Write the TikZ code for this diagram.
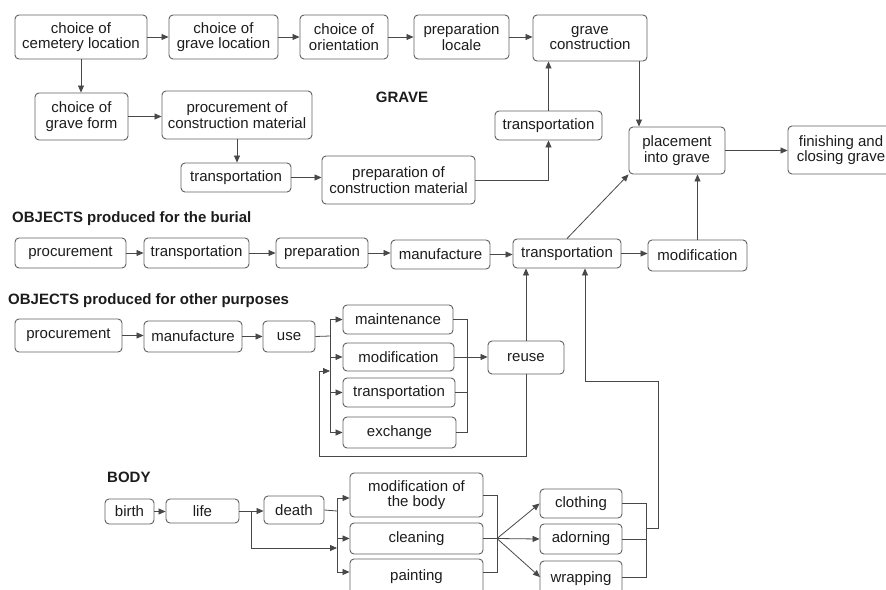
\documentclass[tikz,border=0pt]{standalone}
\usepackage{fontspec}
\setmainfont{Liberation Sans}
\usetikzlibrary{arrows.meta,calc}
\definecolor{boxc}{HTML}{606060}
\definecolor{linec}{HTML}{484848}
\definecolor{txtc}{HTML}{1C1C1C}
\begin{document}
\begin{tikzpicture}[x=1pt,y=-1pt,
 box/.style={draw=boxc, line width=0.9pt, rounded corners=4pt, inner sep=0pt, align=center, text=txtc, font=\fontsize{15}{15.5}\selectfont},
 ln/.style={draw=linec, line width=0.8pt},
 arr/.style={ln, -{Triangle[length=7pt,width=6pt]}},
 lbl/.style={font=\bfseries\fontsize{15}{16}\selectfont, text=txtc, inner sep=0pt, anchor=west}]
\useasboundingbox (0,0) rectangle (886,589);
% ---------- GRAVE ----------
\node[box, minimum width=132pt, minimum height=44pt] (cem) at (81,37) {choice of\\cemetery location};
\node[box, minimum width=109pt, minimum height=44pt] (gloc) at (223.5,37) {choice of\\grave location};
\node[box, minimum width=88pt, minimum height=44pt] (orient) at (344,37) {choice of\\orientation};
\node[box, minimum width=95pt, minimum height=44pt] (prepl) at (461.5,37) {preparation\\locale};
\node[box, minimum width=114pt, minimum height=46pt] (gcons) at (590,38) {grave\\construction};
\node[box, minimum width=93pt, minimum height=47pt] (gform) at (81.5,116.5) {choice of\\grave form};
\node[box, minimum width=150pt, minimum height=48pt] (procm) at (237,115) {procurement of\\construction material};
\node[box, minimum width=110pt, minimum height=29pt] (transG) at (236,177.5) {transportation};
\node[box, minimum width=153pt, minimum height=48pt] (prepcm) at (398.5,180) {preparation of\\construction material};
\node[box, minimum width=107pt, minimum height=29pt] (transU) at (548.5,125.5) {transportation};
\node[box, minimum width=96pt, minimum height=47pt] (place) at (677,150.5) {placement\\into grave};
\node[box, minimum width=106pt, minimum height=48pt] (finish) at (841,150) {finishing and\\closing grave};
\node[lbl, anchor=center] (grave) at (402,97) {GRAVE};
% ---------- OBJECTS burial ----------
\node[lbl] (lobj1) at (12,219) {OBJECTS produced for the burial};
\node[box, minimum width=111pt, minimum height=30pt] (bproc) at (70.5,253) {procurement};
\node[box, minimum width=105pt, minimum height=30pt] (btrans) at (196.5,253) {transportation};
\node[box, minimum width=92pt, minimum height=30pt] (bprep) at (322,253) {preparation};
\node[box, minimum width=99pt, minimum height=29pt] (bmanu) at (440.5,254.5) {manufacture};
\node[box, minimum width=108pt, minimum height=29pt] (otrans) at (567,253.5) {transportation};
\node[box, minimum width=99pt, minimum height=31pt] (bmod) at (697.5,255.5) {modification};
% ---------- OBJECTS other ----------
\node[lbl] (lobj2) at (8,301) {OBJECTS produced for other purposes};
\node[box, minimum width=107pt, minimum height=33pt] (oproc) at (68.5,335.5) {procurement};
\node[box, minimum width=98pt, minimum height=31pt] (omanu) at (193,336.5) {manufacture};
\node[box, minimum width=52pt, minimum height=31pt] (ouse) at (289,336.5) {use};
\node[box, minimum width=110pt, minimum height=29pt] (omaint) at (398,319.5) {maintenance};
\node[box, minimum width=111pt, minimum height=28pt] (omod) at (398.5,357) {modification};
\node[box, minimum width=112pt, minimum height=29pt] (otr) at (399,392.5) {transportation};
\node[box, minimum width=113pt, minimum height=31pt] (oexch) at (399.5,432.5) {exchange};
\node[box, minimum width=76pt, minimum height=33pt] (reuse) at (526,357.5) {reuse};
% ---------- BODY ----------
\node[lbl] (lbody) at (107,477) {BODY};
\node[box, minimum width=49pt, minimum height=25pt] (birth) at (129.5,511.5) {birth};
\node[box, minimum width=73pt, minimum height=24pt] (life) at (202.5,511) {life};
\node[box, minimum width=60pt, minimum height=28pt] (death) at (294,510) {death};
\node[box, minimum width=133pt, minimum height=44pt] (bmodb) at (416.5,495) {modification of\\the body};
\node[box, minimum width=133pt, minimum height=31pt] (clean) at (416.5,538.5) {cleaning};
\node[box, minimum width=133pt, minimum height=36pt] (paint) at (416.5,577) {painting};
\node[box, minimum width=82pt, minimum height=29pt] (cloth) at (581,503.5) {clothing};
\node[box, minimum width=82pt, minimum height=30pt] (adorn) at (581,539) {adorning};
\node[box, minimum width=82pt, minimum height=36pt] (wrap) at (581,579) {wrapping};
% ---------- connectors: grave ----------
\draw[arr] (cem.east) -- (gloc.west);
\draw[arr] (gloc.east) -- (orient.west);
\draw[arr] (orient.east) -- (prepl.west);
\draw[arr] (prepl.east) -- (prepl.east -| gcons.west);
\draw[arr] (cem.south) -- (cem.south |- gform.north);
\draw[arr] (gform.east) -- (gform.east -| procm.west);
\draw[arr] (procm.south) -- (procm.south |- transG.north);
\draw[arr] (transG.east) -- (transG.east -| prepcm.west);
\draw[arr] (prepcm.east) -| (transU.south);
\draw[arr] (transU.north) -- (transU.north |- gcons.south);
\coordinate (pg) at ([xshift=-38pt]place.north);
\draw[arr] (pg |- gcons.south) -- (pg);
\draw[arr] (place.east) -- (place.east -| finish.west);
\draw[arr] (otrans.north) -- (place.south west);
\draw[arr] (bmod.north) -- (bmod.north |- place.south);
% ---------- connectors: objects burial ----------
\draw[arr] (bproc.east) -- (bproc.east -| btrans.west);
\draw[arr] (btrans.east) -- (btrans.east -| bprep.west);
\draw[arr] (bprep.east) -- (bprep.east -| bmanu.west);
\draw[arr] (bmanu.east) -- (bmanu.east -| otrans.west);
\draw[arr] (otrans.east) -- (otrans.east -| bmod.west);
% ---------- connectors: objects other ----------
\draw[arr] (oproc.east) -- (oproc.east -| omanu.west);
\draw[arr] (omanu.east) -- (omanu.east -| ouse.west);
\coordinate (ob) at (330,336);
\draw[ln] (ouse.east) -- (ob);
\draw[ln] (ob |- omaint) -- (ob |- oexch);
\foreach \n in {omaint,omod,otr,oexch} \draw[arr] (ob |- \n) -- (\n.west);
\coordinate (qb) at (467,357);
\draw[ln] (omaint.east) -| (qb |- oexch) -- (oexch.east);
\draw[ln] (otr.east) -- (qb |- otr);
\draw[arr] (omod.east) -- (omod.east -| reuse.west);
\draw[arr] (reuse.north) -- (reuse.north |- otrans.south);
\coordinate (l1) at (319,456);
\coordinate (l2) at (319,371);
\draw[arr] (reuse.south) |- (l1) -- (l2) -- (ob |- l2);
% ---------- connectors: body ----------
\draw[arr] (birth.east) -- (birth.east -| life.west);
\coordinate (lj) at (251,511);
\coordinate (lj2) at (251,548);
\coordinate (bb) at (337,511);
\draw[ln] (life.east) -- (lj);
\draw[arr] (lj) -- (lj -| death.west);
\draw[arr] (lj) |- (bb |- lj2);
\draw[ln] (death.east) -- (bb);
\coordinate (pa) at (337,572);
\coordinate (ma) at (337,498);
\draw[ln] (ma) -- (pa);
\draw[arr] (ma) -- (ma -| bmodb.west);
\draw[arr] (bb |- clean) -- (clean.west);
\draw[arr] (pa) -- (pa -| paint.west);
\coordinate (cb) at (497,538.5);
\coordinate (pe) at (497,572);
\draw[ln] (bmodb.east) -| (pe) -- (pe -| paint.east);
\draw[ln] (clean.east) -- (cb);
\foreach \n in {cloth,adorn} \draw[arr] (cb) -- (\n.west);
\coordinate (we) at (540,577);
\draw[arr] (cb) -- (we);
\coordinate (db) at (646,528);
\coordinate (wb) at (646,577);
\coordinate (r1) at (658,381);
\coordinate (r2) at (585,381);
\draw[ln] (cloth.east) -| (wb) -- (wb -| wrap.east);
\draw[ln] (adorn.east) -- (db |- adorn.east);
\draw[arr] (db) -| (r1) -- (r2) -- (r2 |- otrans.south);
\end{tikzpicture}
\end{document}
